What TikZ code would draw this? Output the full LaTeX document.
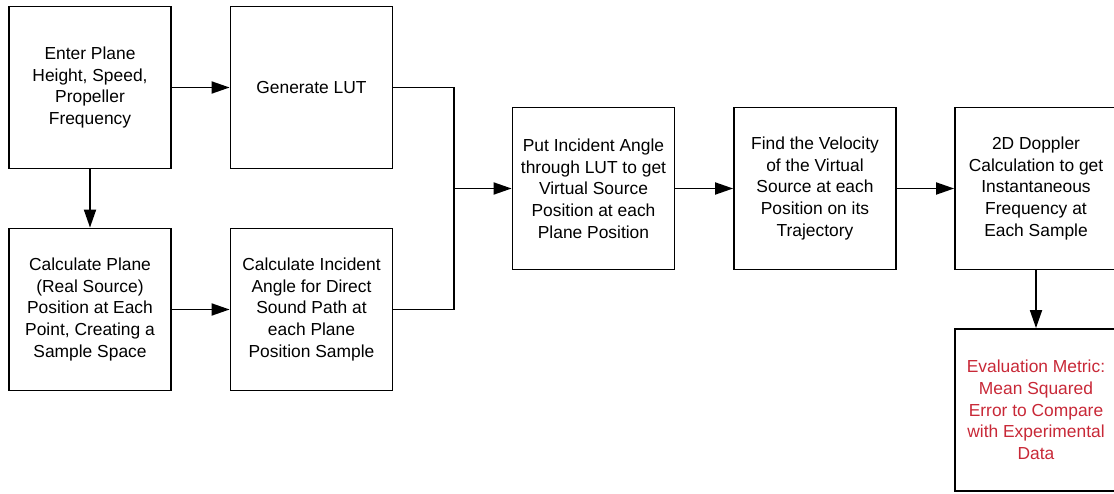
\documentclass[tikz,border=0pt]{standalone}
\usepackage{fontspec}
\setmainfont{Liberation Sans}
\usetikzlibrary{arrows.meta}
\definecolor{metricred}{RGB}{200,40,55}

\begin{document}
\begin{tikzpicture}[x=1pt, y=1pt,
    stage/.style={draw, line width=1.8pt, minimum width=162pt, minimum height=162pt,
        inner sep=0pt, align=center, font=\fontsize{17.4}{21.7}\selectfont},
    link/.style={line width=1.8pt},
    flow/.style={link, -{Triangle[length=18pt,width=12pt]}}]
    \useasboundingbox (0,0) rectangle (1114,493);
    % inputs
    \node[stage] (enter) at (90,405.5) {Enter Plane\\Height, Speed,\\Propeller\\Frequency};
    \node[stage] (lut) at (311.5,405.5) {Generate LUT};
    \node[stage] (plane) at (90,183.5) {Calculate Plane\\(Real Source)\\Position at Each\\Point, Creating a\\Sample Space};
    \node[stage] (angle) at (311.5,183.5) {Calculate Incident\\Angle for Direct\\Sound Path at\\each Plane\\Position Sample};
    % main chain
    \node[stage] (put) at (593.5,304.5) {Put Incident Angle\\through LUT to get\\Virtual Source\\Position at each\\Plane Position};
    \node[stage] (velocity) at (815,304.5) {Find the Velocity\\of the Virtual\\Source at each\\Position on its\\Trajectory};
    \node[stage] (doppler) at (1036,304.5) {2D Doppler\\Calculation to get\\Instantaneous\\Frequency at\\Each Sample};
    \node[stage, text=metricred] (metric) at (1036,83) {Evaluation Metric:\\Mean Squared\\Error to Compare\\with Experimental\\Data};
    \coordinate (join) at (454,304.5);

    \foreach \a/\b in {enter/lut, enter/plane, plane/angle, put/velocity, velocity/doppler, doppler/metric}
        \draw[flow] (\a) -- (\b);
    \draw[link] (lut.east) -| (join);
    \draw[link] (angle.east) -| (join);
    \draw[flow] (join) -- (put);
\end{tikzpicture}
\end{document}
